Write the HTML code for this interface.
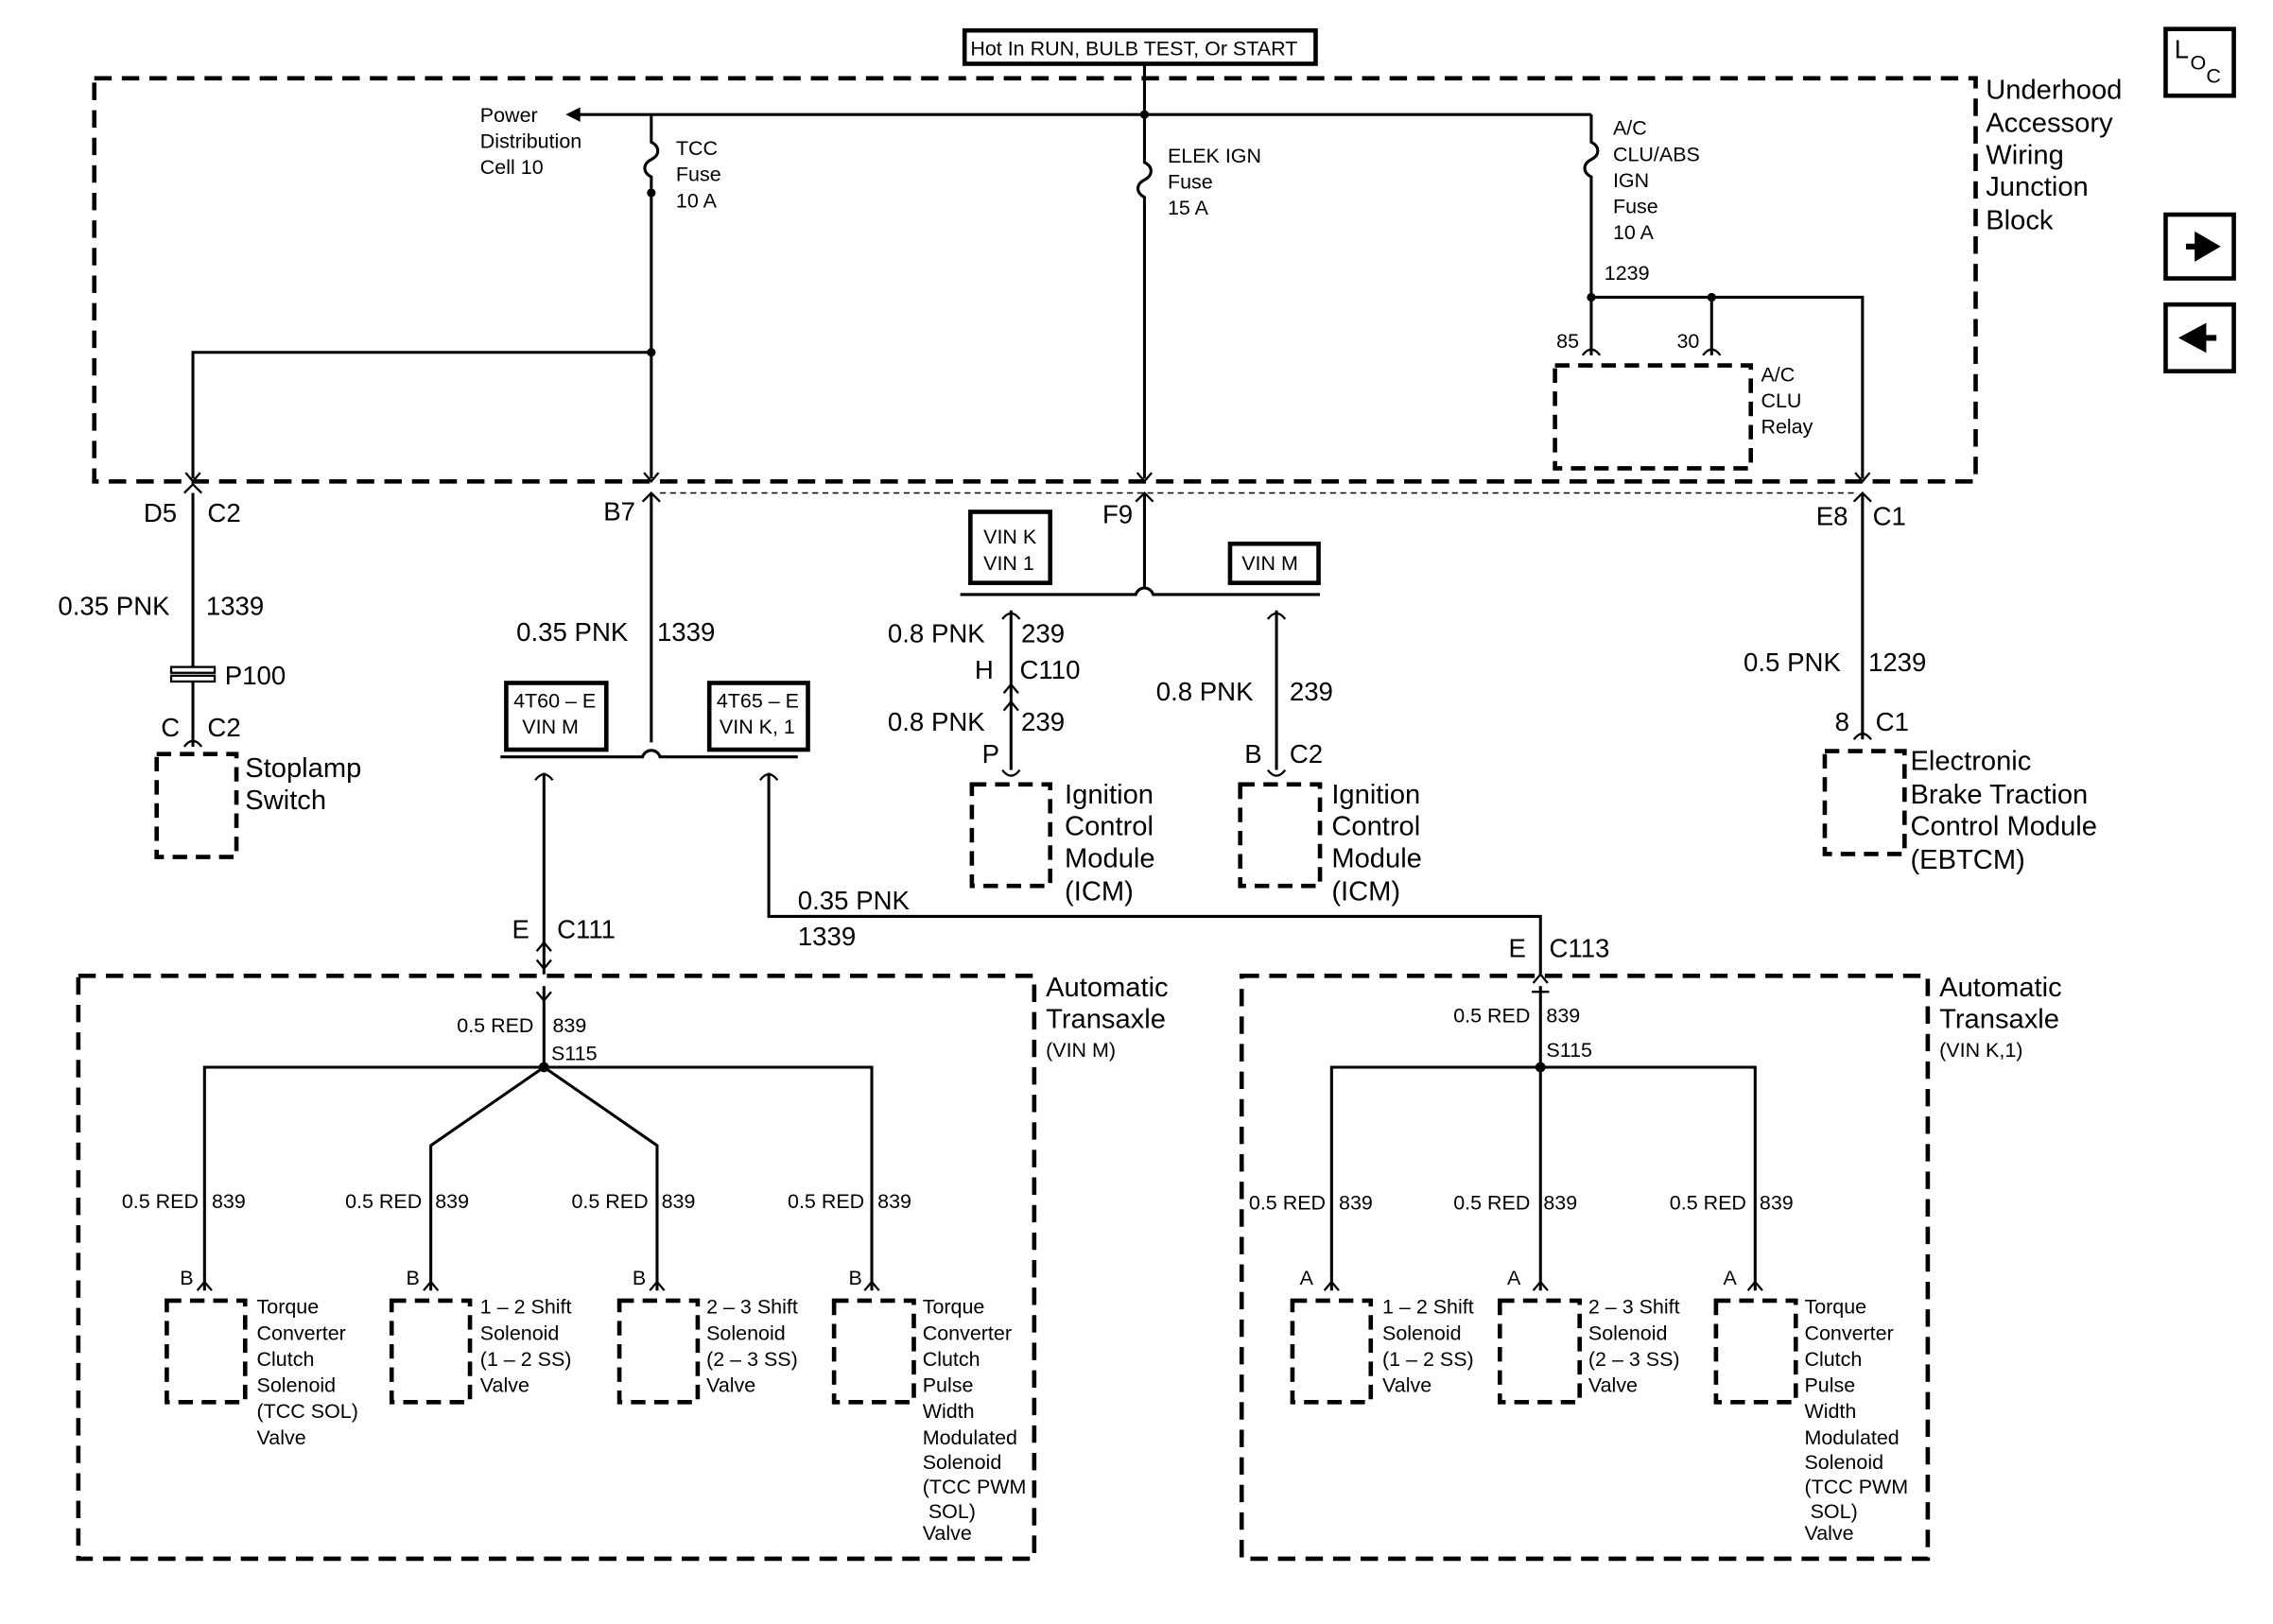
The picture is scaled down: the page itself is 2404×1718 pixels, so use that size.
<!DOCTYPE html>
<html><head><meta charset="utf-8"><style>
html,body{margin:0;padding:0;background:#fff}
svg{display:block}
text{font-family:"Liberation Sans",sans-serif;fill:#000}
.s{font-size:14px}.m{font-size:18px}.l{font-size:19px}
</style></head><body>
<svg width="2404" height="1718" viewBox="0 0 1567 1120" preserveAspectRatio="none" xmlns="http://www.w3.org/2000/svg">
<g fill="none" stroke="#000" stroke-width="2">
<rect x="665" y="21" width="242" height="23" stroke-width="3"/>
<rect x="65" y="54" width="1297" height="278" stroke-width="3" stroke-dasharray="12,7"/>
<rect x="1493" y="20" width="47" height="46" stroke-width="3"/>
<rect x="1493" y="148" width="47" height="44" stroke-width="3"/>
<rect x="1493" y="210" width="47" height="46" stroke-width="3"/>
<line x1="395" y1="79" x2="1097" y2="79"/>
<path d="M789 44 V112 c6 3 6 9 0 12 c-6 3 -6 9 0 12 V330"/>
<path d="M449 79 V98 c6 3 6 9 0 12 c-6 3 -6 9 0 12 V330"/>
<path d="M449 243 H133 V330"/>
<path d="M1097 79 V98 c6 3 6 9 0 12 c-6 3 -6 9 0 12 V245"/>
<path d="M1097 205 H1284 V330"/>
<path d="M1180 205 V245"/>
<rect x="1072" y="252" width="135" height="71" stroke-dasharray="10,6" stroke-width="3"/>
<line x1="455" y1="340" x2="1280" y2="340" stroke-width="1" stroke-dasharray="4,3"/>
<line x1="133" y1="340" x2="133" y2="460"/>
<line x1="133" y1="470" x2="133" y2="515"/>
<rect x="108" y="520" width="55" height="71" stroke-dasharray="10,6" stroke-width="3"/>
<line x1="449" y1="340" x2="449" y2="512"/>
<path d="M345 522 H443 c2 -6 10 -6 12 0 H550"/>
<rect x="349" y="471" width="69" height="46" stroke-width="3"/>
<rect x="489" y="471" width="68" height="46" stroke-width="3"/>
<path d="M375 533 V672"/>
<path d="M530 533 V632 H1062 V672"/>
<path d="M789 340 V405"/>
<path d="M662 410 H783 c2 -6 10 -6 12 0 H910"/>
<rect x="669" y="353" width="55" height="49" stroke-width="3"/>
<rect x="848" y="375" width="61" height="27" stroke-width="3"/>
<path d="M697 421 V531"/>
<path d="M880 421 V531"/>
<rect x="670" y="541" width="54" height="70" stroke-dasharray="10,6" stroke-width="3"/>
<rect x="855" y="541" width="55" height="70" stroke-dasharray="10,6" stroke-width="3"/>
<path d="M1284 340 V510"/>
<rect x="1258" y="518" width="55" height="71" stroke-dasharray="10,6" stroke-width="3"/>
<rect x="54" y="673" width="659" height="402" stroke-dasharray="12,7" stroke-width="3"/>
<path d="M375 680 V736"/>
<path d="M141 890 V736 H601 V890"/>
<path d="M297 890 V790 L375 736 L453 790 V890"/>
<rect x="115" y="897" width="54" height="70" stroke-dasharray="10,6" stroke-width="3"/>
<rect x="270" y="897" width="54" height="70" stroke-dasharray="10,6" stroke-width="3"/>
<rect x="427" y="897" width="54" height="70" stroke-dasharray="10,6" stroke-width="3"/>
<rect x="575" y="897" width="55" height="70" stroke-dasharray="10,6" stroke-width="3"/>
<rect x="856" y="673" width="473" height="402" stroke-dasharray="12,7" stroke-width="3"/>
<path d="M1062 680 V890"/>
<path d="M918 890 V736 H1210 V890"/>
<rect x="891" y="897" width="54" height="70" stroke-dasharray="10,6" stroke-width="3"/>
<rect x="1034" y="897" width="55" height="70" stroke-dasharray="10,6" stroke-width="3"/>
<rect x="1183" y="897" width="55" height="70" stroke-dasharray="10,6" stroke-width="3"/>
<g stroke-width="1.5">
<path d="M128 326 L133 332 L138 326 M127 340 L133 334 L139 340"/>
<path d="M444 326 L449 332 L454 326 M443 346 L449 340 L455 346"/>
<path d="M784 326 L789 332 L794 326 M783 346 L789 340 L795 346"/>
<path d="M1279 326 L1284 332 L1289 326 M1278 346 L1284 340 L1290 346"/>
<path d="M1091 245 q6 -8 12 0 M1174 245 q6 -8 12 0"/>
<path d="M691 427 q6 -8 12 0 M874 427 q6 -8 12 0 M369 538 q6 -8 12 0 M524 538 q6 -8 12 0"/>
<path d="M691 531 q6 8 12 0 M874 531 q6 8 12 0"/>
<path d="M692 478 L697 472 L702 478 M692 490 L697 484 L702 490"/>
<path d="M370 656 L375 650 L380 656 M370 662 L375 668 L380 662 M370 684 L375 690 L380 684"/>
<path d="M1057 678 L1062 672 L1067 678 M1056 684 H1068"/>
<path d="M127 515 q6 -8 12 0 M1278 510 q6 -8 12 0"/>
<path d="M136 890 L141 884 L146 890 M292 890 L297 884 L302 890 M448 890 L453 884 L458 890 M596 890 L601 884 L606 890"/>
<path d="M913 890 L918 884 L923 890 M1057 890 L1062 884 L1067 890 M1205 890 L1210 884 L1215 890"/>
<rect x="118" y="460" width="30" height="4"/><rect x="118" y="466" width="30" height="4"/>
</g>
<path d="M1507 170 H1518 M1515 163 L1527 170 L1515 177 Z" fill="#000" stroke-width="4"/>
<path d="M1528 233 H1517 M1519 226 L1506 233 L1519 240 Z" fill="#000" stroke-width="4"/>
</g>
<g fill="#000">
<path d="M390 79 L400 74 L400 84 Z"/>
<circle cx="789" cy="79" r="3"/><circle cx="449" cy="133" r="3"/><circle cx="449" cy="243" r="3"/>
<circle cx="1097" cy="205" r="3"/><circle cx="1180" cy="205" r="3"/>
<circle cx="375" cy="736" r="3.5"/><circle cx="1062" cy="736" r="3.5"/>
</g>
<text class="s" x="669" y="38">Hot In RUN, BULB TEST, Or START</text>
<text class="m" x="1499" y="40">L</text><text class="s" x="1510" y="48">O</text><text class="s" x="1521" y="57">C</text>
<text class="l" x="1369" y="68">Underhood</text><text class="l" x="1369" y="91">Accessory</text><text class="l" x="1369" y="113">Wiring</text><text class="l" x="1369" y="135">Junction</text><text class="l" x="1369" y="158">Block</text>
<text class="s" x="331" y="84">Power</text><text class="s" x="331" y="102">Distribution</text><text class="s" x="331" y="120">Cell 10</text>
<text class="s" x="466" y="107">TCC</text><text class="s" x="466" y="125">Fuse</text><text class="s" x="466" y="143">10 A</text>
<text class="s" x="805" y="112">ELEK IGN</text><text class="s" x="805" y="130">Fuse</text><text class="s" x="805" y="148">15 A</text>
<text class="s" x="1112" y="93">A/C</text><text class="s" x="1112" y="111">CLU/ABS</text><text class="s" x="1112" y="129">IGN</text><text class="s" x="1112" y="147">Fuse</text><text class="s" x="1112" y="165">10 A</text>
<text class="s" x="1106" y="193">1239</text>
<text class="s" x="1073" y="240">85</text><text class="s" x="1156" y="240">30</text>
<text class="s" x="1214" y="263">A/C</text><text class="s" x="1214" y="281">CLU</text><text class="s" x="1214" y="299">Relay</text>
<text class="m" x="99" y="360">D5</text><text class="m" x="143" y="360">C2</text>
<text class="m" x="416" y="359">B7</text><text class="m" x="760" y="361">F9</text>
<text class="m" x="1252" y="362">E8</text><text class="m" x="1291" y="362">C1</text>
<text class="m" x="40" y="424">0.35 PNK</text><text class="m" x="142" y="424">1339</text>
<text class="m" x="155" y="472">P100</text>
<text class="m" x="111" y="508">C</text><text class="m" x="143" y="508">C2</text>
<text class="l" x="169" y="536">Stoplamp</text><text class="l" x="169" y="558">Switch</text>
<text class="m" x="356" y="442">0.35 PNK</text><text class="m" x="453" y="442">1339</text>
<text class="s" x="354" y="488">4T60 – E</text><text class="s" x="360" y="506">VIN M</text>
<text class="s" x="494" y="488">4T65 – E</text><text class="s" x="496" y="506">VIN K, 1</text>
<text class="s" x="678" y="375">VIN K</text><text class="s" x="678" y="393">VIN 1</text>
<text class="s" x="856" y="393">VIN M</text>
<text class="m" x="612" y="443">0.8 PNK</text><text class="m" x="704" y="443">239</text>
<text class="m" x="672" y="468">H</text><text class="m" x="703" y="468">C110</text>
<text class="m" x="612" y="504">0.8 PNK</text><text class="m" x="704" y="504">239</text>
<text class="m" x="677" y="526">P</text>
<text class="m" x="797" y="483">0.8 PNK</text><text class="m" x="889" y="483">239</text>
<text class="m" x="858" y="526">B</text><text class="m" x="889" y="526">C2</text>
<text class="l" x="734" y="554">Ignition</text><text class="l" x="734" y="576">Control</text><text class="l" x="734" y="598">Module</text><text class="l" x="734" y="621">(ICM)</text>
<text class="l" x="918" y="554">Ignition</text><text class="l" x="918" y="576">Control</text><text class="l" x="918" y="598">Module</text><text class="l" x="918" y="621">(ICM)</text>
<text class="m" x="1202" y="463">0.5 PNK</text><text class="m" x="1288" y="463">1239</text>
<text class="m" x="1265" y="504">8</text><text class="m" x="1293" y="504">C1</text>
<text class="l" x="1317" y="531">Electronic</text><text class="l" x="1317" y="554">Brake Traction</text><text class="l" x="1317" y="576">Control Module</text><text class="l" x="1317" y="599">(EBTCM)</text>
<text class="m" x="550" y="627">0.35 PNK</text><text class="m" x="550" y="652">1339</text>
<text class="m" x="353" y="647">E</text><text class="m" x="384" y="647">C111</text>
<text class="m" x="1040" y="660">E</text><text class="m" x="1068" y="660">C113</text>
<text class="l" x="721" y="687">Automatic</text><text class="l" x="721" y="709">Transaxle</text><text class="s" x="721" y="729">(VIN M)</text>
<text class="l" x="1337" y="687">Automatic</text><text class="l" x="1337" y="709">Transaxle</text><text class="s" x="1337" y="729">(VIN K,1)</text>
<text class="s" x="315" y="712">0.5 RED</text><text class="s" x="381" y="712">839</text><text class="s" x="380" y="731">S115</text>
<text class="s" x="1002" y="705">0.5 RED</text><text class="s" x="1066" y="705">839</text><text class="s" x="1066" y="729">S115</text>
<text class="s" x="84" y="833">0.5 RED</text><text class="s" x="146" y="833">839</text>
<text class="s" x="238" y="833">0.5 RED</text><text class="s" x="300" y="833">839</text>
<text class="s" x="394" y="833">0.5 RED</text><text class="s" x="456" y="833">839</text>
<text class="s" x="543" y="833">0.5 RED</text><text class="s" x="605" y="833">839</text>
<text class="s" x="861" y="834">0.5 RED</text><text class="s" x="923" y="834">839</text>
<text class="s" x="1002" y="834">0.5 RED</text><text class="s" x="1064" y="834">839</text>
<text class="s" x="1151" y="834">0.5 RED</text><text class="s" x="1213" y="834">839</text>
<text class="s" x="124" y="886">B</text><text class="s" x="280" y="886">B</text><text class="s" x="436" y="886">B</text><text class="s" x="585" y="886">B</text>
<text class="s" x="896" y="886">A</text><text class="s" x="1039" y="886">A</text><text class="s" x="1188" y="886">A</text>
<text class="s" x="177" y="906">Torque</text><text class="s" x="177" y="924">Converter</text><text class="s" x="177" y="942">Clutch</text><text class="s" x="177" y="960">Solenoid</text><text class="s" x="177" y="978">(TCC SOL)</text><text class="s" x="177" y="996">Valve</text>
<text class="s" x="331" y="906">1 – 2 Shift</text><text class="s" x="331" y="924">Solenoid</text><text class="s" x="331" y="942">(1 – 2 SS)</text><text class="s" x="331" y="960">Valve</text>
<text class="s" x="487" y="906">2 – 3 Shift</text><text class="s" x="487" y="924">Solenoid</text><text class="s" x="487" y="942">(2 – 3 SS)</text><text class="s" x="487" y="960">Valve</text>
<text class="s" x="636" y="906">Torque</text><text class="s" x="636" y="924">Converter</text><text class="s" x="636" y="942">Clutch</text><text class="s" x="636" y="960">Pulse</text><text class="s" x="636" y="978">Width</text><text class="s" x="636" y="996">Modulated</text><text class="s" x="636" y="1013">Solenoid</text><text class="s" x="636" y="1030">(TCC PWM</text><text class="s" x="640" y="1047">SOL)</text><text class="s" x="636" y="1062">Valve</text>
<text class="s" x="953" y="906">1 – 2 Shift</text><text class="s" x="953" y="924">Solenoid</text><text class="s" x="953" y="942">(1 – 2 SS)</text><text class="s" x="953" y="960">Valve</text>
<text class="s" x="1095" y="906">2 – 3 Shift</text><text class="s" x="1095" y="924">Solenoid</text><text class="s" x="1095" y="942">(2 – 3 SS)</text><text class="s" x="1095" y="960">Valve</text>
<text class="s" x="1244" y="906">Torque</text><text class="s" x="1244" y="924">Converter</text><text class="s" x="1244" y="942">Clutch</text><text class="s" x="1244" y="960">Pulse</text><text class="s" x="1244" y="978">Width</text><text class="s" x="1244" y="996">Modulated</text><text class="s" x="1244" y="1013">Solenoid</text><text class="s" x="1244" y="1030">(TCC PWM</text><text class="s" x="1248" y="1047">SOL)</text><text class="s" x="1244" y="1062">Valve</text>
</svg>
</body></html>
